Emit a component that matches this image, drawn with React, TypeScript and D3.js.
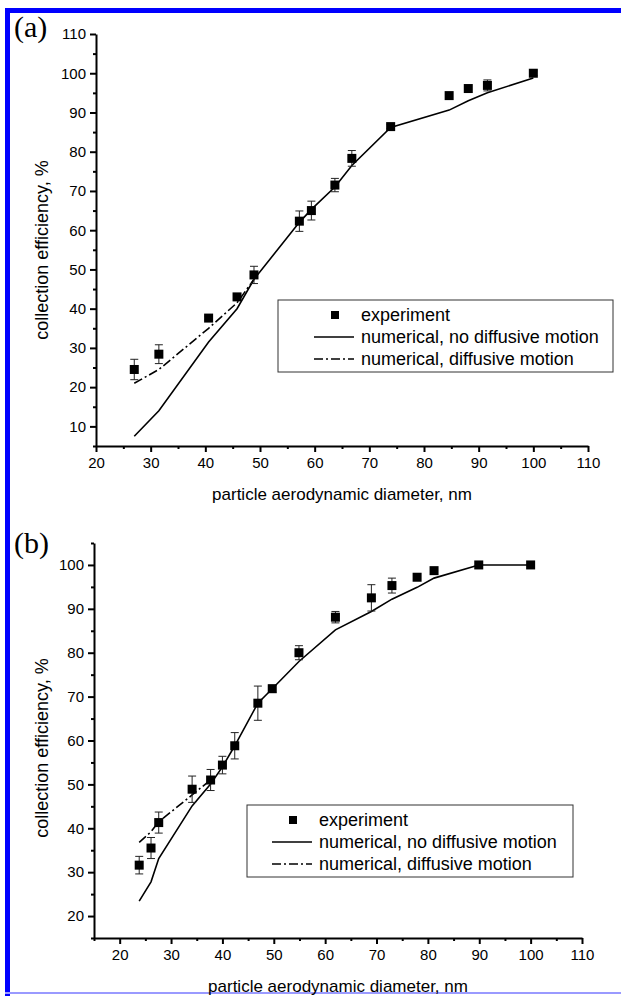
import * as d3 from "d3";
import { useEffect, useRef } from "react";

// ---- panel (a) data ----
const expAX = [27.0, 31.5, 40.6, 45.8, 48.9, 57.2, 59.4, 63.7, 66.8, 73.9, 84.6, 88.1, 91.6, 100];
const expAY = [24.5, 28.4, 37.6, 43.0, 48.6, 62.3, 65.0, 71.5, 78.3, 86.4, 94.3, 96.1, 96.9, 100];
const expAErr = [2.6, 2.4, 0.5, 0.8, 2.2, 2.6, 2.4, 1.7, 2.0, 0.5, 0, 0, 1.4, 0.6];
const solidAY = [7.5, 14, 31.5, 40, 47.5, 62, 65.3, 71, 76.5, 86.2, 90.6, 93, 95, 98.8];
const dashAX = [27.0, 31.5, 40.6, 45.8, 48.9];
const dashAY = [21, 24.5, 35, 41.5, 47.5];

// ---- panel (b) data ----
const expBX = [23.8, 26.1, 27.6, 34.1, 37.7, 40.0, 42.4, 46.9, 49.7, 54.9, 62.0, 69.0, 73.0, 77.9, 81.2, 89.9, 100];
const expBY = [31.6, 35.5, 41.3, 48.9, 51.0, 54.4, 58.8, 68.5, 71.8, 80.0, 88.1, 92.5, 95.3, 97.2, 98.7, 100, 100];
const expBErr = [2, 2.4, 2.4, 3, 2.4, 2, 3, 3.9, 0.8, 1.6, 1.3, 3, 1.7, 0, 0, 0, 0];
const solidBY = [23.4, 27.8, 33.1, 45.1, 50.1, 54.0, 58.8, 68.5, 71.8, 78, 85.2, 89.4, 92.2, 94.9, 97, 100, 100];
const dashBX = [23.8, 26.1, 27.6, 34.1, 37.7];
const dashBY = [36.8, 39.2, 41.5, 47.6, 51.0];

// ---- ticks ----
const xTicks = [20, 30, 40, 50, 60, 70, 80, 90, 100, 110];
const yTicksA = [10, 20, 30, 40, 50, 60, 70, 80, 90, 100, 110];
const yTicksB = [20, 30, 40, 50, 60, 70, 80, 90, 100];
const legendLabels = ["experiment", "numerical, no diffusive motion", "numerical, diffusive motion"];

const SANS = "'Liberation Sans', Arial, sans-serif";

export default function App() {
  const ref = useRef<SVGSVGElement | null>(null);

  useEffect(() => {
    const svg = d3.select(ref.current);
    svg.selectAll("*").remove();

    // 藍色外框
    svg.append("rect").attr("x", 5).attr("y", 8).attr("width", 616).attr("height", 5).attr("fill", "#0000ff");
    svg.append("rect").attr("x", 5).attr("y", 8).attr("width", 5).attr("height", 988).attr("fill", "#0000ff");
    svg.append("rect").attr("x", 5).attr("y", 992).attr("width", 616).attr("height", 2).attr("fill", "#9a9aff");

    const drawPanel = (p: any) => {
      const x = d3.scaleLinear().domain(p.xDomain).range(p.xRange);
      const y = d3.scaleLinear().domain(p.yDomain).range(p.yRange);
      const g = svg.append("g");

      // minor ticks
      const minorX = d3.range(p.xDomain[0], p.xDomain[1] + 0.1, 5).filter((v) => !xTicks.includes(v));
      const minorY = d3.range(p.yDomain[0], p.yDomain[1] + 0.1, 5).filter((v) => !p.yTicks.includes(v));

      const xAxis = g.append("g").attr("transform", `translate(0,${p.yRange[0]})`)
        .call(d3.axisBottom(x).tickValues(xTicks).tickSize(6).tickSizeOuter(0).tickPadding(5));
      g.append("g").attr("transform", `translate(0,${p.yRange[0]})`)
        .call(d3.axisBottom(x).tickValues(minorX).tickSize(3).tickSizeOuter(0).tickFormat(() => ""))
        .select(".domain").remove();
      const yAxis = g.append("g").attr("transform", `translate(${p.xRange[0]},0)`)
        .call(d3.axisLeft(y).tickValues(p.yTicks).tickSize(6).tickSizeOuter(0).tickPadding(4));
      g.append("g").attr("transform", `translate(${p.xRange[0]},0)`)
        .call(d3.axisLeft(y).tickValues(minorY).tickSize(3).tickSizeOuter(0).tickFormat(() => ""))
        .select(".domain").remove();

      g.selectAll(".domain").attr("stroke", "#000").attr("stroke-width", 2);
      g.selectAll(".tick line").attr("stroke", "#000").attr("stroke-width", 2);
      [xAxis, yAxis].forEach((a) => a.selectAll("text").attr("font-family", SANS).attr("font-size", 15).attr("fill", "#000"));

      // axis titles
      g.append("text").attr("x", (p.xRange[0] + p.xRange[1]) / 2).attr("y", p.yRange[0] + 54)
        .attr("text-anchor", "middle").attr("font-family", SANS).attr("font-size", 17)
        .text("particle aerodynamic diameter, nm");
      g.append("text").attr("transform", `translate(48,${p.yTitleY}) rotate(-90)`)
        .attr("text-anchor", "middle").attr("font-family", SANS).attr("font-size", 18)
        .text("collection efficiency, %");

      // panel letter
      g.append("text").attr("x", 14).attr("y", p.letterY)
        .attr("font-family", "'Liberation Serif', 'Times New Roman', serif").attr("font-size", 30)
        .text(p.letter);

      // lines
      const line = d3.line<[number, number]>().x((d) => x(d[0])).y((d) => y(d[1]));
      g.append("path").datum(p.expX.map((v: number, i: number) => [v, p.solidY[i]]))
        .attr("d", line).attr("fill", "none").attr("stroke", "#000").attr("stroke-width", 1.6);
      g.append("path").datum(p.dashX.map((v: number, i: number) => [v, p.dashY[i]]))
        .attr("d", line).attr("fill", "none").attr("stroke", "#000").attr("stroke-width", 1.6)
        .attr("stroke-dasharray", "9,3,2,3");

      // error bars
      const eb = g.append("g").attr("stroke", "#222").attr("stroke-width", 1);
      p.expX.forEach((v: number, i: number) => {
        const e = p.err[i];
        if (!e) return;
        const cx = x(v), y1 = y(p.expY[i] + e), y2 = y(p.expY[i] - e);
        eb.append("line").attr("x1", cx).attr("x2", cx).attr("y1", y1).attr("y2", y2);
        eb.append("line").attr("x1", cx - 4).attr("x2", cx + 4).attr("y1", y1).attr("y2", y1);
        eb.append("line").attr("x1", cx - 4).attr("x2", cx + 4).attr("y1", y2).attr("y2", y2);
      });

      // markers
      g.append("g").selectAll("rect").data(p.expX).join("rect")
        .attr("x", (d: number) => x(d) - 4.5).attr("y", (_: number, i: number) => y(p.expY[i]) - 4.5)
        .attr("width", 9).attr("height", 9).attr("fill", "#000");

      // legend
      const L = p.legend;
      const lg = g.append("g").attr("transform", `translate(${L.x},${L.y})`);
      lg.append("rect").attr("width", L.w).attr("height", 72).attr("fill", "#fff")
        .attr("stroke", "#333").attr("stroke-width", 1);
      const rows = [15, 37, 59];
      lg.append("rect").attr("x", L.sym - 4).attr("y", rows[0] - 4).attr("width", 8).attr("height", 8).attr("fill", "#000");
      lg.append("line").attr("x1", L.sym - 21).attr("x2", L.sym + 19).attr("y1", rows[1]).attr("y2", rows[1])
        .attr("stroke", "#000").attr("stroke-width", 1.6);
      lg.append("line").attr("x1", L.sym - 21).attr("x2", L.sym + 19).attr("y1", rows[2]).attr("y2", rows[2])
        .attr("stroke", "#000").attr("stroke-width", 1.6).attr("stroke-dasharray", "9,3,2,3");
      lg.selectAll("text.lab").data(legendLabels).join("text").attr("class", "lab")
        .attr("x", L.sym + 26).attr("y", (_: string, i: number) => rows[i] + 6)
        .attr("font-family", SANS).attr("font-size", 18).text((d: string) => d);
    };

    drawPanel({
      letter: "(a)", letterY: 37,
      xDomain: [20, 110], xRange: [96, 588],
      yDomain: [5, 110], yRange: [446, 34], yTicks: yTicksA, yTitleY: 250,
      expX: expAX, expY: expAY, err: expAErr, solidY: solidAY, dashX: dashAX, dashY: dashAY,
      legend: { x: 278, y: 300, w: 335, sym: 335 - 278 },
    });

    drawPanel({
      letter: "(b)", letterY: 553,
      xDomain: [15, 110], xRange: [94, 582],
      yDomain: [15, 105], yRange: [938, 543], yTicks: yTicksB, yTitleY: 748,
      expX: expBX, expY: expBY, err: expBErr, solidY: solidBY, dashX: dashBX, dashY: dashBY,
      legend: { x: 247, y: 805, w: 326, sym: 293 - 247 },
    });
  }, []);

  return (
    <svg ref={ref} width={621} height={996}
      style={{ position: "absolute", left: 0, top: 0, display: "block", background: "#fff" }} />
  );
}
